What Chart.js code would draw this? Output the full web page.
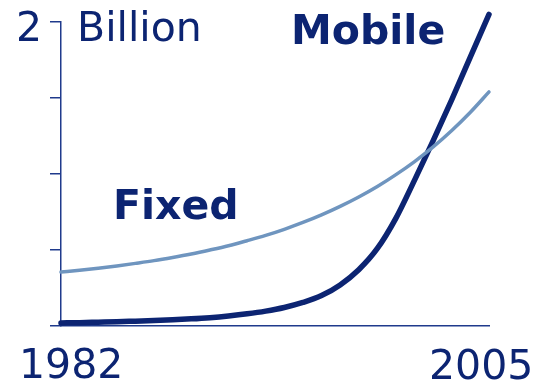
<!DOCTYPE html>
<html>
<head>
<meta charset="utf-8">
<script src="https://cdn.jsdelivr.net/npm/chart.js@4/dist/chart.umd.min.js"></script>
<style>
  html, body { margin: 0; padding: 0; background: #fff; }
  #wrap { width: 533px; height: 384px; position: relative; }
</style>
</head>
<body>
<div id="wrap"><canvas id="subs"></canvas></div>
<script>
// ── data (billions of subscribers) ───────────────────────
const years = [1982, 1983, 1984, 1985, 1986, 1987, 1988, 1989, 1990, 1991, 1992, 1993,
               1994, 1995, 1996, 1997, 1998, 1999, 2000, 2001, 2002, 2003, 2004, 2005];
const fixedLines = [0.355, 0.367, 0.38, 0.395, 0.412, 0.43, 0.451, 0.474, 0.50, 0.528, 0.561, 0.596,
                    0.636, 0.681, 0.731, 0.787, 0.849, 0.918, 0.996, 1.082, 1.178, 1.286, 1.406, 1.54];
const mobileSubs = [0.02, 0.022, 0.025, 0.028, 0.032, 0.036, 0.041, 0.047, 0.055, 0.066, 0.08, 0.098,
                    0.122, 0.155, 0.20, 0.27, 0.37, 0.51, 0.71, 0.96, 1.22, 1.49, 1.77, 2.05];
const yTicks = [0, 0.5, 1, 1.5, 2];
const unitLabel = "Billion";

const NAVY  = "#0c2472";
const STEEL = "#6f95bf";
const AXIS  = "#1f3a8c";

// ── text labels drawn on canvas ──────────────────────────
const labelPlugin = {
  id: "labels",
  afterDraw(chart) {
    const c = chart.ctx;
    c.save();
    c.fillStyle = NAVY;
    c.textBaseline = "alphabetic";
    c.textAlign = "left";
    c.font = "41px 'DejaVu Sans'";
    c.fillText(String(yTicks[yTicks.length - 1]), 16, 41);
    c.fillText(unitLabel, 77, 41);
    c.fillText(String(years[0]), 19, 378);
    c.fillText(String(years[years.length - 1]), 429, 379);
    c.font = "bold 41px 'DejaVu Sans'";
    c.fillText("Mobile", 291, 44);
    c.fillText("Fixed", 113, 219);
    c.restore();
  },
};

new Chart(document.getElementById("subs"), {
  type: "line",
  data: {
    labels: years,
    datasets: [
      {
        label: "Fixed",
        data: fixedLines,
        borderColor: STEEL,
        borderWidth: 3.5,
        borderCapStyle: "round",
        pointRadius: 0,
        cubicInterpolationMode: "monotone",
        clip: false,
      },
      {
        label: "Mobile",
        data: mobileSubs,
        borderColor: NAVY,
        borderWidth: 5.5,
        borderCapStyle: "round",
        pointRadius: 0,
        cubicInterpolationMode: "monotone",
        clip: false,
      },
    ],
  },
  options: {
    responsive: true,
    maintainAspectRatio: false,
    animation: false,
    layout: { padding: { left: 50, top: 22, right: 44, bottom: 58 } },
    plugins: { legend: { display: false }, tooltip: { enabled: false } },
    scales: {
      x: {
        offset: false,
        ticks: { display: false },
        grid: { display: false, drawTicks: false },
        border: { color: AXIS, width: 1.5 },
      },
      y: {
        min: 0,
        max: 2,
        afterBuildTicks: (s) => { s.ticks = yTicks.map((v) => ({ value: v })); },
        ticks: { display: false },
        grid: { drawOnChartArea: false, tickLength: 11, color: AXIS, lineWidth: 1.5 },
        border: { color: AXIS, width: 1.5 },
      },
    },
  },
  plugins: [labelPlugin],
});
</script>
</body>
</html>
